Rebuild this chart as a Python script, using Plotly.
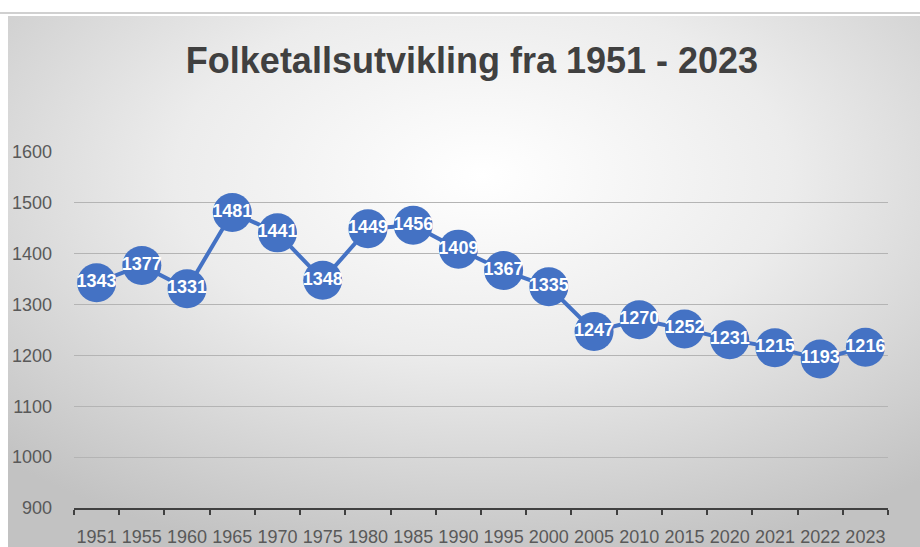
import base64
import plotly.graph_objects as go

years = ["1951", "1955", "1960", "1965", "1970", "1975", "1980", "1985", "1990",
         "1995", "2000", "2005", "2010", "2015", "2020", "2021", "2022", "2023"]
population = [1343, 1377, 1331, 1481, 1441, 1348, 1449, 1456, 1409,
              1367, 1335, 1247, 1270, 1252, 1231, 1215, 1193, 1216]
y_ticks = [900, 1000, 1100, 1200, 1300, 1400, 1500, 1600]
title_text = "Folketallsutvikling fra 1951 - 2023"

W, H = 920, 547
L, R, T, B = 74, 32, 152, 39
PW, PH = W - L - R, H - T - B
FONT = "Liberation Sans"

svg = """<svg xmlns='http://www.w3.org/2000/svg' width='912' height='531' preserveAspectRatio='none'>
<defs><radialGradient id='g' cx='52%' cy='30%' r='75%'>
<stop offset='0%' stop-color='#ffffff'/>
<stop offset='45%' stop-color='#ececec'/>
<stop offset='100%' stop-color='#c2c2c2'/>
</radialGradient></defs>
<rect width='912' height='531' fill='url(#g)'/></svg>"""
src = "data:image/svg+xml;base64," + base64.b64encode(svg.encode()).decode()

fig = go.Figure()
fig.add_trace(go.Scatter(
    x=years, y=population, mode="lines+markers+text",
    line=dict(color="#4472C4", width=4),
    marker=dict(size=39, color="#4472C4"),
    text=[str(v) for v in population], textposition="middle center",
    textfont=dict(family=FONT, size=18, color="white", weight="bold"),
    cliponaxis=False, showlegend=False, hoverinfo="x+y",
))

shapes = [
    dict(type="line", xref="paper", yref="paper", x0=-L / PW, x1=1 + R / PW,
         y0=1 + (T - 13) / PH, y1=1 + (T - 13) / PH, line=dict(color="#d0d0d0", width=2)),
]

fig.update_layout(
    width=W, height=H,
    paper_bgcolor="white", plot_bgcolor="rgba(0,0,0,0)",
    margin=dict(l=L, r=R, t=T, b=B, autoexpand=False),
    title=dict(text=title_text, x=472 / W, xanchor="center", y=1 - 60 / H, yanchor="middle",
               font=dict(family=FONT, size=36, color="#404040", weight="bold")),
    images=[dict(source=src, xref="paper", yref="paper",
                 x=-(L - 8) / PW, y=1 + (T - 16) / PH,
                 sizex=(W - 8) / PW, sizey=(H - 16) / PH,
                 sizing="stretch", layer="below", xanchor="left", yanchor="top")],
    shapes=shapes,
    xaxis=dict(type="category", showgrid=False, showline=True, linecolor="#404040", linewidth=2,
               ticks="outside", tickson="boundaries", ticklen=5, tickwidth=2, tickcolor="#404040",
               tickangle=0, tickfont=dict(family=FONT, size=18, color="#595959"),
               ticklabelstandoff=11, automargin=False,
               range=[-0.5, len(years) - 0.5], fixedrange=True),
    yaxis=dict(range=[900, 1600], tickvals=y_ticks, showgrid=True, gridcolor="#b4b4b4", gridwidth=1,
               zeroline=False, showline=False, ticks="", automargin=False,
               tickfont=dict(family=FONT, size=18, color="#595959"),
               ticklabelstandoff=21),
)

fig.write_html("out.html", config={"displayModeBar": False},
               post_script="document.body.style.margin='0';document.body.style.padding='0';")
